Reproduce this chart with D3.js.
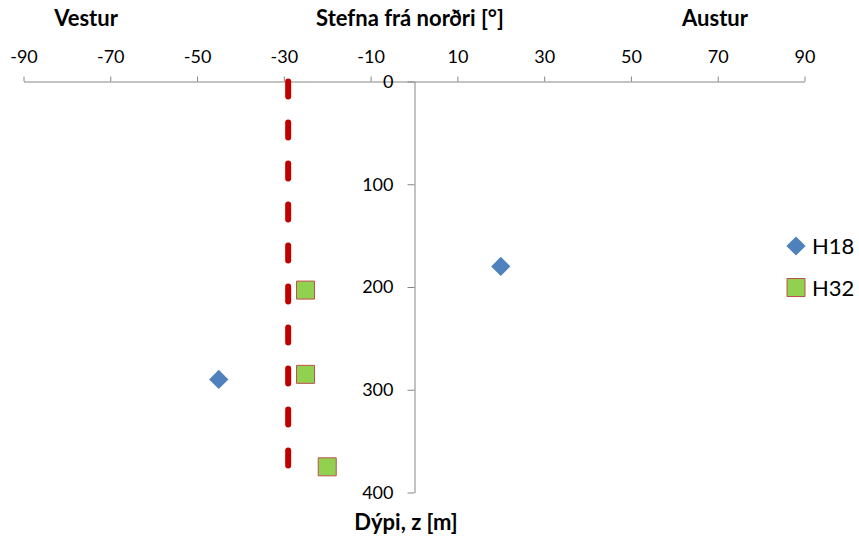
<!DOCTYPE html>
<html><head><meta charset="utf-8">
<script src="https://cdn.jsdelivr.net/npm/d3@7"></script>
<style>body{margin:0;background:#fff}svg{display:block}</style>
</head><body>
<svg id="c" width="859" height="541"></svg>
<script>
const xTicks = [-90,-70,-50,-30,-10,10,30,50,70,90];
const yTicks = [0,100,200,300,400];
const seriesNames = ["H18","H32"];
const h18Dir = [20,-45];
const h18Depth = [180,290];
const h32Dir = [-25,-25,-20];
const h32Depth = [203,285,375];
const refLineDir = [-29,-29];
const refLineDepth = [0,380];

const svg = d3.select("#c");
const font = "Lato, 'Open Sans', sans-serif";
const x = d3.scaleLinear().domain([-90,90]).range([23.5,804.5]);
const y = d3.scaleLinear().domain([0,400]).range([81.5,492.5]);
const axisColor = "#868686";
const fmt = d => String(d);

// top axis
const gx = svg.append("g").attr("transform",`translate(0,${y(0)})`)
  .call(d3.axisTop(x).tickValues(xTicks).tickSize(5).tickSizeOuter(0).tickPadding(14).tickFormat(fmt));
gx.selectAll("path,line").attr("stroke",axisColor);
gx.selectAll("text").attr("font-family",font).attr("font-size",18).attr("fill","#000");

// left axis at x=0
const gy = svg.append("g").attr("transform",`translate(${Math.round(x(0))+0.5},0)`)
  .call(d3.axisLeft(y).tickValues(yTicks).tickSize(7).tickSizeOuter(0).tickPadding(14).tickFormat(fmt));
gy.selectAll("path,line").attr("stroke",axisColor);
gy.selectAll("text").attr("font-family",font).attr("font-size",18).attr("fill","#000");
gx.select(".domain").raise();

// titles
const t = svg.append("g").attr("font-family",font).attr("font-weight","bold").attr("font-size",22).attr("fill","#000");
t.append("text").attr("x",86).attr("y",26).attr("text-anchor","middle").text("Vestur");
t.append("text").attr("x",410).attr("y",26).attr("text-anchor","middle").text("Stefna frá norðri [°]");
t.append("text").attr("x",715).attr("y",26).attr("text-anchor","middle").text("Austur");
t.append("text").attr("x",406).attr("y",530).attr("text-anchor","middle").text("Dýpi, z [m]");

// dashed reference line
const line = d3.line().x(d=>x(d[0])).y(d=>y(d[1]));
svg.append("path").datum(d3.zip(refLineDir,refLineDepth)).attr("d",line)
  .attr("fill","none").attr("stroke","#C00000").attr("stroke-width",6)
  .attr("stroke-linecap","round").attr("stroke-dasharray","15,26");

// markers
const diamond = d3.symbol().type(d3.symbolSquare).size(185);
svg.selectAll(".h18").data(d3.zip(h18Dir,h18Depth)).join("path")
  .attr("d",diamond).attr("transform",d=>`translate(${x(d[0])},${y(d[1])}) rotate(45)`)
  .attr("fill","#4F81BD");
const sq = d3.symbol().type(d3.symbolSquare).size(324);
svg.selectAll(".h32").data(d3.zip(h32Dir,h32Depth)).join("path")
  .attr("d",sq).attr("transform",d=>`translate(${x(d[0])},${y(d[1])})`)
  .attr("fill","#92D050").attr("stroke","#C0504D").attr("stroke-width",1);

// legend
const lg = svg.append("g").attr("font-family",font).attr("font-size",22);
lg.append("path").attr("d",diamond).attr("transform","translate(796,246) rotate(45)").attr("fill","#4F81BD");
lg.append("text").attr("x",812).attr("y",254).text(seriesNames[0]);
lg.append("path").attr("d",sq).attr("transform","translate(796,287.5)").attr("fill","#92D050").attr("stroke","#C0504D");
lg.append("text").attr("x",812).attr("y",295.5).text(seriesNames[1]);
</script>
</body></html>
